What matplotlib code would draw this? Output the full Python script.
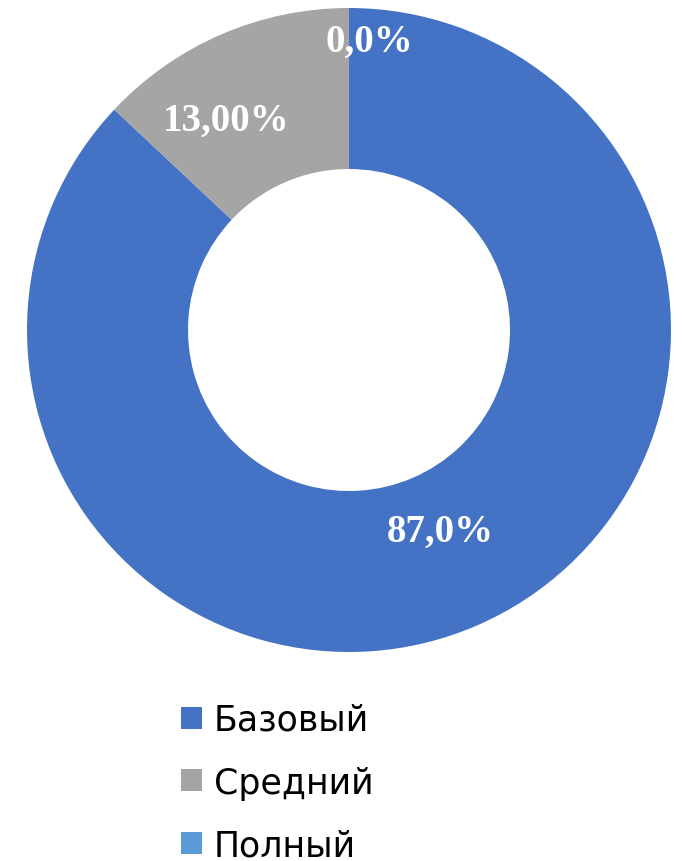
import matplotlib.pyplot as plt
from matplotlib.patches import Patch
import numpy as np

# data
categories = ['Базовый', 'Средний', 'Полный']
shares = [87.0, 13.0, 0.0]
value_labels = ['87,0%', '13,00%', '0,0%']
colors = ['#4472C4', '#A5A5A5', '#5B9BD5']

# label placement tweaks (radius, angle offset in degrees)
label_r = [0.685, 0.755, 0.90]
label_dtheta = [1.0, 7.0, -4.0]

fig = plt.figure(figsize=(6.82, 8.62), dpi=100)
ax = fig.add_axes([27 / 682, 209 / 862, 644 / 682, 644 / 862])

wedges, _ = ax.pie(shares, colors=colors, startangle=90, counterclock=False,
                   radius=1.0, wedgeprops=dict(width=0.5, linewidth=0))
ax.set_xlim(-1, 1)
ax.set_ylim(-1, 1)
ax.set_aspect('equal')
ax.axis('off')

for w, txt, r, dt in zip(wedges, value_labels, label_r, label_dtheta):
    ang = np.deg2rad((w.theta1 + w.theta2) / 2 + dt)
    ax.text(r * np.cos(ang), r * np.sin(ang), txt, ha='center', va='center',
            color='white', fontsize=28, fontweight='bold', family='Liberation Serif')

handles = [Patch(facecolor=c, edgecolor='none') for c in colors]
fig.legend(handles, categories, loc='upper left', bbox_to_anchor=(167 / 682, 1 - 690 / 862),
           frameon=False, fontsize=25, handlelength=0.6, handleheight=0.6,
           handletextpad=0.35, labelspacing=0.83, borderaxespad=0)

fig.savefig('out.png', dpi=100)
